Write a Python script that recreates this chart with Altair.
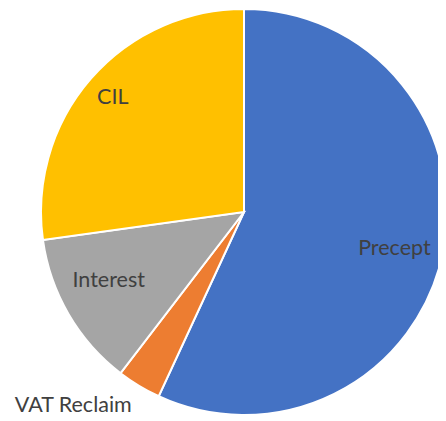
import altair as alt
import pandas as pd

categories = ["Precept", "VAT Reclaim", "Interest", "CIL"]
values = [56.9, 3.5, 12.4, 27.2]
colors = ["#4472C4", "#ED7D31", "#A5A5A5", "#FFC000"]

df = pd.DataFrame({"category": categories, "value": values, "order": list(range(len(categories)))})

CX, CY, R = 236, 204, 203

pie = alt.Chart(df).mark_arc(outerRadius=R, stroke="white", strokeWidth=2).encode(
    theta=alt.Theta("value:Q", stack=True),
    order=alt.Order("order:Q"),
    x=alt.value(CX),
    y=alt.value(CY),
    color=alt.Color("category:N", scale=alt.Scale(domain=categories, range=colors), legend=None),
)

labels = alt.Chart(df).transform_window(
    cum="sum(value)", sort=[alt.SortField("order")], frame=[None, 0]
).transform_joinaggregate(
    total="sum(value)"
).transform_calculate(
    mid="(datum.cum - datum.value / 2) / datum.total * 2 * PI",
    r="datum.category == 'CIL' ? 174 : (datum.category == 'Interest' ? 152 : (datum.category == 'Precept' ? 154 : 220))",
    ox="datum.category == 'VAT Reclaim' ? -57 : (datum.category == 'Interest' ? -4 : 0)",
    oy="datum.category == 'VAT Reclaim' ? 6 : (datum.category == 'Interest' ? -8 : (datum.category == 'Precept' ? 4 : 0))",
).transform_calculate(
    px=f"{CX} + datum.r * sin(datum.mid) + datum.ox",
    py=f"{CY} - datum.r * cos(datum.mid) + datum.oy",
).mark_text(font="Lato", fontSize=21.5, color="#404040").encode(
    x=alt.X("px:Q", scale=None, axis=None),
    y=alt.Y("py:Q", scale=None, axis=None),
    text="category:N",
)

chart = alt.layer(pie, labels).properties(
    width=430, height=410,
    autosize=alt.AutoSizeParams(type="none"),
    padding=0,
).configure_view(stroke=None)

chart.save("out.html", embed_options={"renderer": "svg", "actions": False})
